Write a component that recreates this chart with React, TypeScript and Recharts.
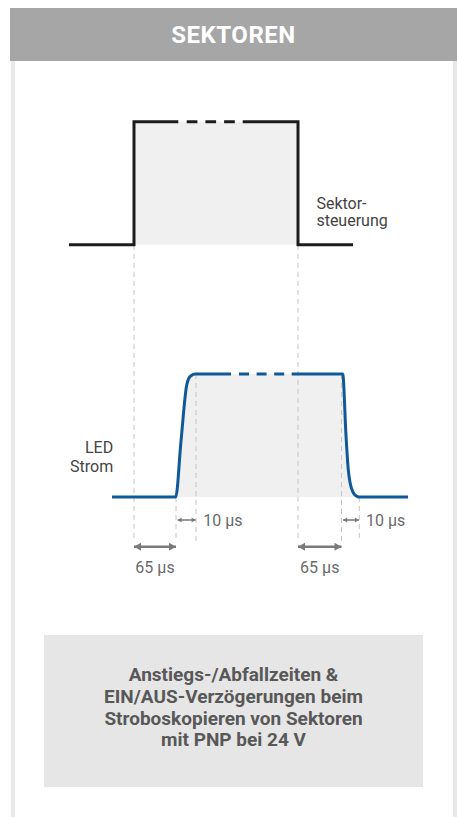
import React from 'react';
import { ComposedChart, Line, Area, XAxis, YAxis, ReferenceLine, Scatter } from 'recharts';

// schematic time axis (not to scale); level 0 = off, 1 = on
const sectorRiseTime = [0.5, 33, 33, 55.15];
const sectorRiseLevel = [0, 0, 1, 1];
const sectorFallTime = [87.35, 115, 115, 142.5];
const sectorFallLevel = [1, 1, 0, 0];
const sectorBreak = [59.35, 83.5];

const ledRiseTime = [22, 53.85, 56.5, 59.35, 60.25, 61.85, 63.5, 81.5];
const ledRiseLevel = [0, 0, 0.455, 0.91, 0.96, 0.99, 1, 1];
const ledFallTime = [111.85, 137.35, 139, 140.15, 141, 142.5, 144, 145.65, 170];
const ledFallLevel = [1, 1, 0.5, 0.22, 0.12, 0.04, 0.01, 0, 0];
const ledBreak = [85.5, 108.15];

// switching instants
const sectorOn = 33;
const sectorOff = 115;
const ledOnStart = 54;
const ledOnEnd = 64;
const ledOffStart = 136.75;
const ledOffEnd = 145.65;

const delayLabels = ['65 µs', '65 µs'];
const slopeLabels = ['10 µs', '10 µs'];

const W = 457;
const H = 817;
const SECTOR_BASE = 2.05; // sector trace sits above the LED trace
const ARROW_SHORT = -0.187;
const ARROW_LONG = -0.404;
const GUIDE_END = -0.36;

const zip = (t: number[], v: number[], off = 0) => t.map((x, i) => ({ t: x, v: v[i] + off }));

const sectorLeft = zip(sectorRiseTime, sectorRiseLevel, SECTOR_BASE);
const sectorRight = zip(sectorFallTime, sectorFallLevel, SECTOR_BASE);
const sectorDash = zip(sectorBreak, [1, 1], SECTOR_BASE);
const sectorFill = [...sectorLeft, ...sectorRight];

const ledLeft = zip(ledRiseTime, ledRiseLevel);
const ledRight = zip(ledFallTime, ledFallLevel);
const ledDash = zip(ledBreak, [1, 1]);
const ledFill = [...ledLeft, ...ledRight];

const guides = [
  { t: sectorOn, top: SECTOR_BASE },
  { t: sectorOff, top: SECTOR_BASE },
  { t: ledOnStart, top: 0 },
  { t: ledOnEnd, top: 1 },
  { t: ledOffStart, top: 1 },
  { t: ledOffEnd, top: 0 },
];

const longArrows = [
  [sectorOn, ledOnStart],
  [sectorOff, ledOffStart],
];
const shortArrows = [
  [ledOnStart + 0.8, ledOnEnd - 0.2],
  [ledOffStart + 0.8, ledOffEnd - 0.2],
];

const textPoints = [
  { t: (longArrows[0][0] + longArrows[0][1]) / 2, v: -0.618, text: delayLabels[0], anchor: 'middle', color: '#6a6a6a' },
  { t: (longArrows[1][0] + longArrows[1][1]) / 2, v: -0.618, text: delayLabels[1], anchor: 'middle', color: '#6a6a6a' },
  { t: ledOnEnd + 3.6, v: -0.232, text: slopeLabels[0], anchor: 'start', color: '#6a6a6a' },
  { t: ledOffEnd + 3.4, v: -0.232, text: slopeLabels[1], anchor: 'start', color: '#6a6a6a' },
  { t: 22.6, v: 0.355, text: 'LED', anchor: 'end', color: '#444' },
  { t: 22.6, v: 0.2, text: 'Strom', anchor: 'end', color: '#444' },
  { t: 124.2, v: 2.345, text: 'Sektor-', anchor: 'start', color: '#444' },
  { t: 124.2, v: 2.2, text: 'steuerung', anchor: 'start', color: '#444' },
];

const head = (len: number, half: number, color: string) => (props: any) => {
  const { cx, cy, index } = props;
  const dir = index === 0 ? -1 : 1;
  return (
    <path
      key={`h${index}`}
      d={`M${cx},${cy} L${cx - dir * len},${cy - half} L${cx - dir * len},${cy + half} Z`}
      fill={color}
    />
  );
};

const renderText = (props: any) => {
  const { cx, cy, payload } = props;
  return (
    <text x={cx} y={cy} textAnchor={payload.anchor} fill={payload.color} fontSize={16} fontFamily="Roboto, sans-serif">
      {payload.text}
    </text>
  );
};

const BLACK = '#1c1c1c';
const BLUE = '#0f5899';
const GREY = '#7a7a7a';

export default function App() {
  return (
    <div style={{ position: 'absolute', left: 0, top: 0, width: W, height: H, background: '#fff', overflow: 'hidden', fontFamily: 'Roboto, sans-serif' }}>
      <div style={{ position: 'absolute', left: 11, top: 61, width: 4, height: H - 61, background: '#e8e8e8' }} />
      <div style={{ position: 'absolute', left: 453, top: 61, width: 4, height: H - 61, background: '#e8e8e8' }} />
      <div
        style={{
          position: 'absolute', left: 10, top: 8, width: 447, height: 53, background: '#a6a6a6', color: '#fff',
          fontWeight: 700, fontSize: 24, letterSpacing: 0.5, display: 'flex', alignItems: 'center', justifyContent: 'center',
        }}
      >
        SEKTOREN
      </div>
      <div
        style={{
          position: 'absolute', left: 44, top: 635, width: 379, height: 152, background: '#e6e6e6', color: '#585858',
          fontWeight: 700, fontSize: 19, lineHeight: '21.7px', textAlign: 'center', display: 'flex', alignItems: 'center',
          justifyContent: 'center', boxSizing: 'border-box', paddingBottom: 7,
        }}
      >
        <div>
          Anstiegs-/Abfallzeiten &amp;<br />
          EIN/AUS-Verzögerungen beim<br />
          Stroboskopieren von Sektoren<br />
          mit PNP bei 24 V
        </div>
      </div>
      <div style={{ position: 'absolute', left: 0, top: 0 }}>
        <ComposedChart width={W} height={H} margin={{ top: 5, right: 49, bottom: 197, left: 68 }}>
          <XAxis type="number" dataKey="t" domain={[0, 170]} allowDataOverflow hide />
          <YAxis type="number" domain={[-1, 4]} allowDataOverflow hide />

          <Area data={sectorFill} dataKey="v" type="linear" baseValue={SECTOR_BASE} fill="#f0f0f0" fillOpacity={1} stroke="none" isAnimationActive={false} />
          <Area data={ledFill} dataKey="v" type="monotone" baseValue={0} fill="#f0f0f0" fillOpacity={1} stroke="none" isAnimationActive={false} />

          {guides.map((g, i) => (
            <ReferenceLine
              key={`g${i}`}
              segment={[{ x: g.t, y: g.top }, { x: g.t, y: GUIDE_END }]}
              stroke="#c4c4c4"
              strokeWidth={1}
              strokeDasharray="5 4"
            />
          ))}

          <Line data={sectorLeft} dataKey="v" type="linear" stroke={BLACK} strokeWidth={3} strokeLinejoin="miter" dot={false} activeDot={false} isAnimationActive={false} />
          <Line data={sectorRight} dataKey="v" type="linear" stroke={BLACK} strokeWidth={3} strokeLinejoin="miter" dot={false} activeDot={false} isAnimationActive={false} />
          <Line data={sectorDash} dataKey="v" type="linear" stroke={BLACK} strokeWidth={3} strokeDasharray="10.7 8" dot={false} activeDot={false} isAnimationActive={false} />

          <Line data={ledLeft} dataKey="v" type="monotone" stroke={BLUE} strokeWidth={3} dot={false} activeDot={false} isAnimationActive={false} />
          <Line data={ledRight} dataKey="v" type="monotone" stroke={BLUE} strokeWidth={3} dot={false} activeDot={false} isAnimationActive={false} />
          <Line data={ledDash} dataKey="v" type="linear" stroke={BLUE} strokeWidth={3} strokeDasharray="10 7.6" dot={false} activeDot={false} isAnimationActive={false} />

          {longArrows.map((a, i) => (
            <Line
              key={`la${i}`}
              data={[{ t: a[0], v: ARROW_LONG }, { t: a[1], v: ARROW_LONG }]}
              dataKey="v"
              type="linear"
              stroke={GREY}
              strokeWidth={2.5}
              dot={head(7, 4, GREY)}
              activeDot={false}
              isAnimationActive={false}
            />
          ))}
          {shortArrows.map((a, i) => (
            <Line
              key={`sa${i}`}
              data={[{ t: a[0], v: ARROW_SHORT }, { t: a[1], v: ARROW_SHORT }]}
              dataKey="v"
              type="linear"
              stroke={GREY}
              strokeWidth={1.5}
              dot={head(4, 2.5, GREY)}
              activeDot={false}
              isAnimationActive={false}
            />
          ))}

          <Scatter data={textPoints} dataKey="v" shape={renderText} isAnimationActive={false} />
        </ComposedChart>
      </div>
    </div>
  );
}
